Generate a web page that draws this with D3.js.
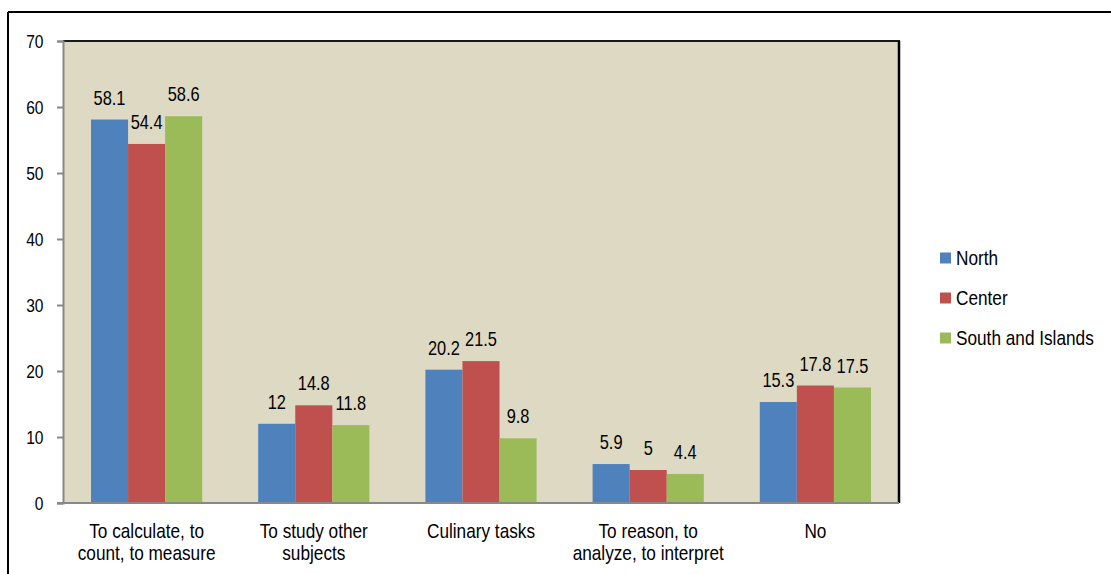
<!DOCTYPE html>
<html>
<head>
<meta charset="utf-8">
<script src="https://cdn.jsdelivr.net/npm/d3@7"></script>
<style>
  html, body { margin: 0; padding: 0; background: #fff; }
  svg text { font-family: "Liberation Sans", Arial, sans-serif; fill: #000; }
</style>
</head>
<body>
<svg id="chart" width="1111" height="574"></svg>
<script>
// Categories and series values
const categories = [
  ["To calculate, to", "count, to measure"],
  ["To study other", "subjects"],
  ["Culinary tasks"],
  ["To reason, to", "analyze, to interpret"],
  ["No"]
];
const seriesNames = ["North", "Center", "South and Islands"];
const north = [58.1, 12, 20.2, 5.9, 15.3];
const center = [54.4, 14.8, 21.5, 5, 17.8];
const south = [58.6, 11.8, 9.8, 4.4, 17.5];
const yTicks = [0, 10, 20, 30, 40, 50, 60, 70];
const colors = ["#4F81BD", "#C0504D", "#9BBB59"];

const seriesValues = [north, center, south];
const NARROW = 0.82; // horizontal squeeze to get a narrow sans look

const svg = d3.select("#chart");

// Places condensed text: anchored at (x, y), squeezed horizontally
function narrowText(parent, x, y, size, anchor) {
  return parent.append("text")
    .attr("transform", `translate(${x},${y}) scale(${NARROW},1)`)
    .attr("text-anchor", anchor)
    .attr("font-size", size);
}

// Outer frame (top and left edges visible)
svg.append("line").attr("x1", 8).attr("x2", 1111).attr("y1", 12).attr("y2", 12)
  .attr("stroke", "#000").attr("stroke-width", 2);
svg.append("line").attr("x1", 8).attr("x2", 8).attr("y1", 12).attr("y2", 574)
  .attr("stroke", "#000").attr("stroke-width", 2);

const plot = { left: 63, right: 899, top: 41, bottom: 503 };

const x0 = d3.scaleBand()
  .domain(d3.range(categories.length))
  .range([plot.left, plot.right])
  .paddingInner(0.335)
  .paddingOuter(0.1675);

const x1 = d3.scaleBand()
  .domain(d3.range(seriesNames.length))
  .range([0, x0.bandwidth()]);

const y = d3.scaleLinear().domain([0, 70]).range([plot.bottom, plot.top]);

// Plot area background
svg.append("rect")
  .attr("x", plot.left).attr("y", plot.top)
  .attr("width", plot.right - plot.left).attr("height", plot.bottom - plot.top)
  .attr("fill", "#DDD9C3");

// Bars
const groups = svg.append("g").selectAll("g")
  .data(categories.map((c, i) => i))
  .join("g")
  .attr("transform", i => `translate(${x0(i)},0)`);

groups.selectAll("rect")
  .data(i => seriesValues.map((vals, s) => ({ s, v: vals[i] })))
  .join("rect")
  .attr("x", d => x1(d.s))
  .attr("width", x1.bandwidth())
  .attr("y", d => y(d.v))
  .attr("height", d => y(0) - y(d.v))
  .attr("fill", d => colors[d.s]);

// Value labels above each bar
groups.each(function(i) {
  const g = d3.select(this);
  seriesValues.forEach((vals, s) => {
    narrowText(g, x1(s) + x1.bandwidth() / 2, y(vals[i]) - 15, 20, "middle")
      .text(String(vals[i]));
  });
});

// Plot border: dark top/right, grey axes on left/bottom
svg.append("line").attr("x1", plot.left).attr("x2", plot.right + 1)
  .attr("y1", plot.top).attr("y2", plot.top).attr("stroke", "#1a1a1a").attr("stroke-width", 2);
svg.append("line").attr("x1", plot.right).attr("x2", plot.right)
  .attr("y1", plot.top).attr("y2", plot.bottom).attr("stroke", "#000").attr("stroke-width", 2.5);

// Y axis
const yAxis = d3.axisLeft(y).tickValues(yTicks).tickSize(6).tickFormat("");
const gy = svg.append("g").attr("transform", `translate(${plot.left},0)`).call(yAxis);
gy.select(".domain").attr("stroke", "#888").attr("stroke-width", 2);
gy.selectAll(".tick line").attr("stroke", "#888").attr("stroke-width", 2);
yTicks.forEach(t => {
  narrowText(svg, 43.5, y(t) + 6.8, 19, "end").text(String(t));
});

// X axis baseline
svg.append("line").attr("x1", plot.left - 6).attr("x2", plot.right)
  .attr("y1", plot.bottom).attr("y2", plot.bottom).attr("stroke", "#888").attr("stroke-width", 2);

// Category labels
categories.forEach((lines, i) => {
  lines.forEach((ln, k) => {
    narrowText(svg, x0(i) + x0.bandwidth() / 2, 537.5 + k * 22.5, 21, "middle").text(ln);
  });
});

// Legend
const legend = svg.append("g").attr("transform", "translate(940,258)");
seriesNames.forEach((name, s) => {
  const g = legend.append("g").attr("transform", `translate(0,${s * 40})`);
  g.append("rect").attr("x", 0).attr("y", -5.5).attr("width", 11).attr("height", 11).attr("fill", colors[s]);
  narrowText(g, 16, 7, 21, "start").text(name);
});
</script>
</body>
</html>
